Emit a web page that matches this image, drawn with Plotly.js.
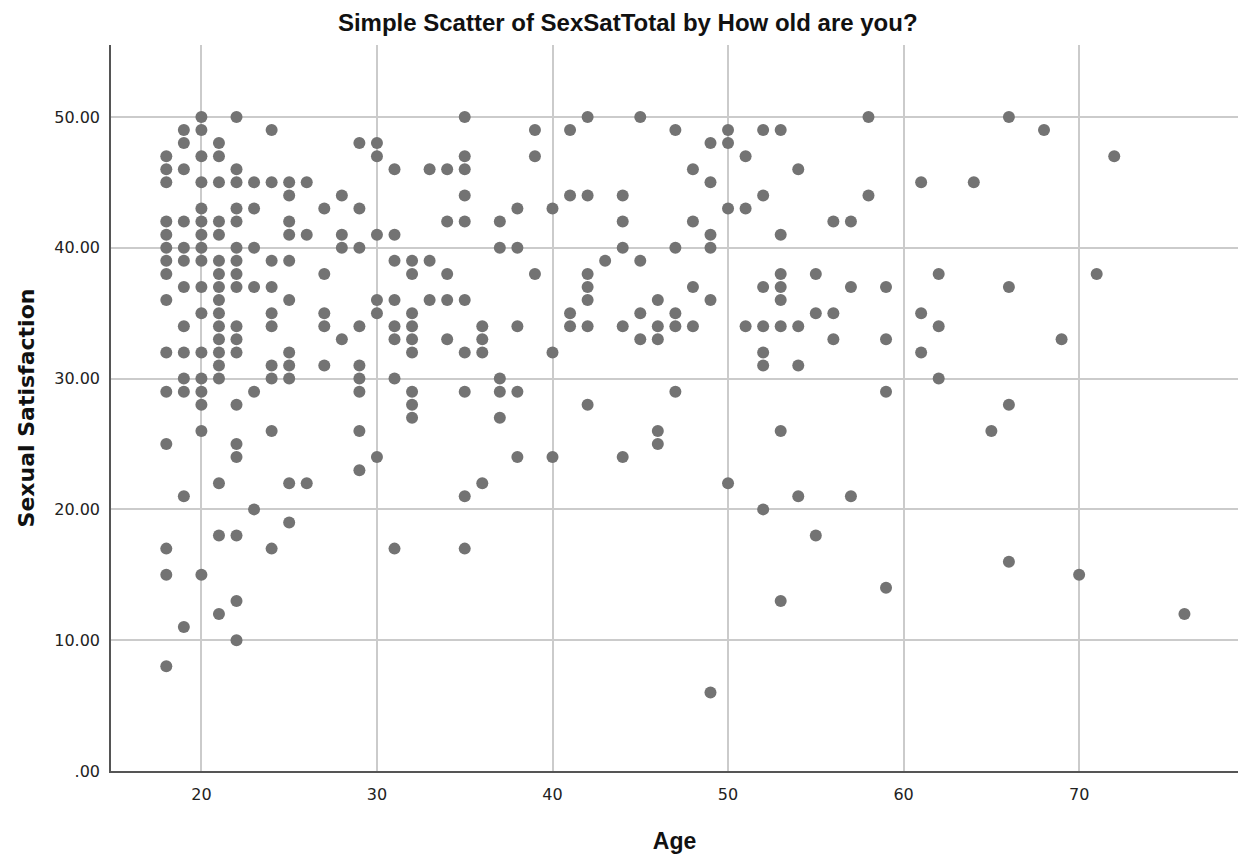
<!DOCTYPE html>
<html>
<head>
<meta charset="utf-8">
<script src="https://cdn.plot.ly/plotly-3.0.1.min.js"></script>
<style>
  html, body { margin: 0; padding: 0; background: #ffffff; }
  #chart { width: 1248px; height: 862px; }
</style>
</head>
<body>
<div id="chart"></div>
<script>
// Ages (x categories) and the SexSatTotal values observed at each age
var ageLevels = [18,19,20,21,22,23,24,25,26,27,28,29,30,31,32,33,34,35,36,37,38,39,40,41,42,43,44,45,46,47,48,49,50,51,52,53,54,55,56,57,58,59,61,62,64,65,66,68,69,70,71,72,76];
var sexSatByAge = [
  [47,46,45,42,41,40,39,38,36,32,29,25,17,15,8],          // 18
  [49,48,46,42,40,39,37,34,32,30,29,21,11],               // 19
  [50,49,47,45,43,42,41,40,39,37,35,32,30,29,28,26,15],   // 20
  [48,47,45,42,41,39,38,37,36,35,34,33,32,31,30,22,18,12],// 21
  [50,46,45,43,42,40,39,38,37,34,33,32,28,25,24,18,13,10],// 22
  [45,43,40,37,29,20],                                    // 23
  [49,45,39,37,35,34,31,30,26,17],                        // 24
  [45,44,42,41,39,36,32,31,30,22,19],                     // 25
  [45,41,22],                                             // 26
  [43,38,35,34,31],                                       // 27
  [44,41,40,33],                                          // 28
  [48,43,40,34,31,30,29,26,23],                           // 29
  [48,47,41,36,35,24],                                    // 30
  [46,41,39,36,34,33,30,17],                              // 31
  [39,38,35,34,33,32,29,28,27],                           // 32
  [46,39,36],                                             // 33
  [46,42,38,36,33],                                       // 34
  [50,47,46,44,42,36,32,29,21,17],                        // 35
  [34,33,32,22],                                          // 36
  [42,40,30,29,27],                                       // 37
  [43,40,34,29,24],                                       // 38
  [49,47,38],                                             // 39
  [43,32,24],                                             // 40
  [49,44,35,34],                                          // 41
  [50,44,38,37,36,34,28],                                 // 42
  [39],                                                   // 43
  [44,42,40,34,24],                                       // 44
  [50,39,35,33],                                          // 45
  [36,34,33,26,25],                                       // 46
  [49,40,35,34,29],                                       // 47
  [46,42,37,34],                                          // 48
  [48,45,41,40,36,6],                                     // 49
  [49,48,43,22],                                          // 50
  [47,43,34],                                             // 51
  [49,44,37,34,32,31,20],                                 // 52
  [49,41,38,37,36,34,26,13],                              // 53
  [46,34,31,21],                                          // 54
  [38,35,18],                                             // 55
  [42,35,33],                                             // 56
  [42,37,21],                                             // 57
  [50,44],                                                // 58
  [37,33,29,14],                                          // 59
  [45,35,32],                                             // 61
  [38,34,30],                                             // 62
  [45],                                                   // 64
  [26],                                                   // 65
  [50,37,28,16],                                          // 66
  [49],                                                   // 68
  [33],                                                   // 69
  [15],                                                   // 70
  [38],                                                   // 71
  [47],                                                   // 72
  [12]                                                    // 76
];
var xTickVals = [20,30,40,50,60,70];
var yTickVals = [0,10,20,30,40,50];
var yTickText = ['.00','10.00','20.00','30.00','40.00','50.00'];

var xs = [], ys = [];
for (var i = 0; i < ageLevels.length; i++) {
  for (var j = 0; j < sexSatByAge[i].length; j++) {
    xs.push(ageLevels[i]);
    ys.push(sexSatByAge[i][j]);
  }
}

var trace = {
  type: 'scatter',
  mode: 'markers',
  x: xs,
  y: ys,
  marker: { color: '#737373', size: 12, line: { width: 0 } },
  hoverinfo: 'x+y',
  showlegend: false
};

var tickFont = { family: 'DejaVu Sans, Liberation Sans, sans-serif', size: 16, color: '#222222' };

var layout = {
  width: 1248,
  height: 862,
  paper_bgcolor: '#ffffff',
  plot_bgcolor: '#ffffff',
  margin: { l: 111, r: 10, t: 45, b: 91 },
  title: {
    text: '<b>Simple Scatter of SexSatTotal by How old are you?</b>',
    font: { family: 'Liberation Sans, Arial, sans-serif', size: 24, color: '#111111' },
    xref: 'container', x: 0.503, xanchor: 'center',
    yref: 'container', y: 0.974, yanchor: 'middle'
  },
  xaxis: {
    range: [14.85, 79.05],
    tickmode: 'array',
    tickvals: xTickVals,
    ticks: '',
    showgrid: true,
    gridcolor: '#cbcbcb',
    gridwidth: 1.5,
    zeroline: false,
    showline: true,
    linecolor: '#555555',
    linewidth: 1.5,
    tickfont: tickFont,
    ticklabelstandoff: 8,
    title: {
      text: '<b>Age</b>',
      font: { family: 'Liberation Sans, Arial, sans-serif', size: 23, color: '#111111' },
      standoff: 30
    }
  },
  yaxis: {
    range: [0, 55.5],
    tickmode: 'array',
    tickvals: yTickVals,
    ticktext: yTickText,
    ticks: '',
    showgrid: true,
    gridcolor: '#cbcbcb',
    gridwidth: 1.5,
    zeroline: false,
    showline: true,
    linecolor: '#555555',
    linewidth: 1.5,
    tickfont: tickFont,
    ticklabelstandoff: 6,
    title: {
      text: '<b>Sexual Satisfaction</b>',
      font: { family: 'DejaVu Sans, Liberation Sans, sans-serif', size: 22, color: '#111111' },
      standoff: 14
    }
  }
};

Plotly.newPlot('chart', [trace], layout, { displayModeBar: false, staticPlot: false });
</script>
</body>
</html>
